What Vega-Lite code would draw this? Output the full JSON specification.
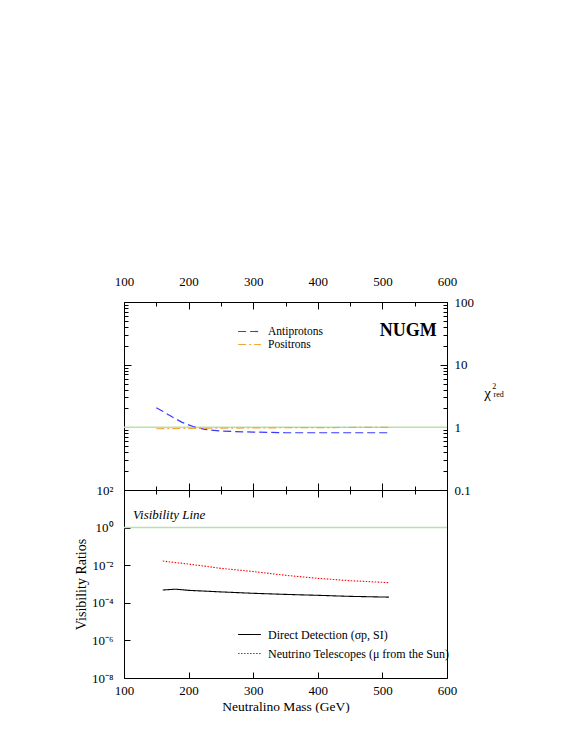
{
  "$schema": "https://vega.github.io/schema/vega-lite/v6.json",
  "background": "white",
  "padding": {"left": 73, "top": 271, "right": 0, "bottom": 0},
  "bounds": "flush",
  "spacing": 0,
  "config": {
    "font": "Liberation Serif",
    "view": {"stroke": "black", "strokeWidth": 1},
    "axis": {"grid": false, "domain": false, "labelFlush": false, "labelOverlap": false, "labelFont": "Liberation Serif", "titleFont": "Liberation Serif", "labelFontSize": 13, "titleFontSize": 13, "labelColor": "black", "titleColor": "black", "tickColor": "black", "titleFontWeight": "normal"},
    "legend": {"labelFont": "Liberation Serif", "labelColor": "black", "labelLimit": 400}
  },
  "resolve": {"scale": {"color": "independent", "strokeDash": "independent"}, "legend": {"color": "independent", "strokeDash": "independent"}},
  "vconcat": [
    {
      "width": 323,
      "height": 188,
      "layer": [
        {
          "data": {"values": [{}]},
          "mark": {"type": "rule", "color": "#b8e2ad", "strokeWidth": 1.5},
          "encoding": {
            "y": {"datum": 1, "type": "quantitative", "scale": {"type": "log", "domain": [0.1, 100]},
              "axis": {"orient": "left", "values": [0.1,0.2,0.3,0.4,0.5,0.6,0.7,0.8,0.9,1,2,3,4,5,6,7,8,9,10,20,30,40,50,60,70,80,90,100], "labels": false, "title": null,
                "tickSize": {"condition": {"test": "abs(log(datum.value)/LN10 - round(log(datum.value)/LN10)) < 0.001", "value": -7}, "value": -4}}}
          }
        },
        {
          "data": {"values": [
            {"mass": 150, "chi2": 2.06, "series": "Antiprotons"},
            {"mass": 160, "chi2": 1.8, "series": "Antiprotons"},
            {"mass": 175, "chi2": 1.46, "series": "Antiprotons"},
            {"mass": 190, "chi2": 1.2, "series": "Antiprotons"},
            {"mass": 207, "chi2": 1.03, "series": "Antiprotons"},
            {"mass": 225, "chi2": 0.93, "series": "Antiprotons"},
            {"mass": 250, "chi2": 0.87, "series": "Antiprotons"},
            {"mass": 300, "chi2": 0.84, "series": "Antiprotons"},
            {"mass": 350, "chi2": 0.82, "series": "Antiprotons"},
            {"mass": 400, "chi2": 0.82, "series": "Antiprotons"},
            {"mass": 450, "chi2": 0.82, "series": "Antiprotons"},
            {"mass": 510, "chi2": 0.82, "series": "Antiprotons"},
            {"mass": 150, "chi2": 0.95, "series": "Positrons"},
            {"mass": 200, "chi2": 0.96, "series": "Positrons"},
            {"mass": 300, "chi2": 0.98, "series": "Positrons"},
            {"mass": 400, "chi2": 0.99, "series": "Positrons"},
            {"mass": 510, "chi2": 1.0, "series": "Positrons"}
          ]},
          "mark": {"type": "line", "strokeWidth": 1.2},
          "encoding": {
            "x": {"field": "mass", "type": "quantitative", "scale": {"domain": [100, 600], "nice": false},
              "axis": {"orient": "top", "values": [100,150,200,250,300,350,400,450,500,550,600], "labelExpr": "datum.value % 100 === 0 ? datum.label : ''", "title": null, "labelPadding": 21,
                "tickSize": {"condition": {"test": "datum.value % 100 === 0", "value": -7}, "value": -4}}},
            "y": {"field": "chi2", "type": "quantitative", "scale": {"type": "log", "domain": [0.1, 100]},
              "axis": {"orient": "right", "values": [0.1,0.2,0.3,0.4,0.5,0.6,0.7,0.8,0.9,1,2,3,4,5,6,7,8,9,10,20,30,40,50,60,70,80,90,100], "title": null, "labelPadding": 14,
                "labelExpr": "indexof([0.1,1,10,100], datum.value) >= 0 ? datum.label : ''",
                "tickSize": {"condition": {"test": "abs(log(datum.value)/LN10 - round(log(datum.value)/LN10)) < 0.001", "value": -7}, "value": -4}}},
            "color": {"field": "series", "type": "nominal", "scale": {"domain": ["Antiprotons", "Positrons"], "range": ["#3a3aff", "#f5a53a"]},
              "legend": {"orient": "none", "legendX": 119, "legendY": 23, "title": null, "symbolType": "M-2,0L2,0", "symbolSize": 130, "symbolStrokeWidth": 1.2, "labelFontSize": 11.5, "rowPadding": 1, "labelOffset": 12}},
            "strokeDash": {"field": "series", "type": "nominal", "scale": {"domain": ["Antiprotons", "Positrons"], "range": [[8, 4], [8, 3, 2, 3]]},
              "legend": {"orient": "none", "legendX": 119, "legendY": 23, "title": null, "symbolType": "M-2,0L2,0", "symbolSize": 130, "symbolStrokeWidth": 1.2, "labelFontSize": 11.5, "rowPadding": 1, "labelOffset": 12}}
          }
        },
        {
          "data": {"values": [{}]},
          "mark": {"type": "text", "text": "NUGM", "fontSize": 18, "fontWeight": "bold", "align": "right", "baseline": "middle", "font": "Liberation Serif"},
          "encoding": {
            "x": {"datum": 584, "type": "quantitative",
              "axis": {"orient": "bottom", "values": [100,150,200,250,300,350,400,450,500,550,600], "labels": false, "title": null,
                "tickSize": {"condition": {"test": "datum.value % 100 === 0", "value": -7}, "value": -4}}},
            "y": {"datum": 34, "type": "quantitative", "axis": null}
          }
        },
        {
          "data": {"values": [{}]},
          "mark": {"type": "text", "text": "χ", "fontSize": 15, "align": "center", "baseline": "middle", "font": "Liberation Serif"},
          "encoding": {"x": {"datum": 663, "type": "quantitative", "axis": null}, "y": {"datum": 3.5, "type": "quantitative", "axis": null}}
        },
        {
          "data": {"values": [{}]},
          "mark": {"type": "text", "text": "2", "fontSize": 8, "align": "left", "baseline": "middle", "font": "Liberation Serif"},
          "encoding": {"x": {"datum": 670, "type": "quantitative", "axis": null}, "y": {"datum": 4.4, "type": "quantitative", "axis": null}}
        },
        {
          "data": {"values": [{}]},
          "mark": {"type": "text", "text": "red", "fontSize": 8, "align": "left", "baseline": "middle", "font": "Liberation Serif"},
          "encoding": {"x": {"datum": 672, "type": "quantitative", "axis": null}, "y": {"datum": 3.3, "type": "quantitative", "axis": null}}
        }
      ],
      "resolve": {"axis": {"x": "independent", "y": "independent"}}
    },
    {
      "width": 323,
      "height": 188,
      "layer": [
        {
          "data": {"values": [{}]},
          "mark": {"type": "rule", "color": "#b8e2ad", "strokeWidth": 1.5},
          "encoding": {
            "y": {"datum": 1, "type": "quantitative", "scale": {"type": "log", "domain": [1e-8, 100]},
              "axis": {"orient": "left", "values": [1e-8, 1e-6, 1e-4, 1e-2, 1, 100], "title": "Visibility Ratios", "titleFontSize": 14, "titlePadding": 3, "labelPadding": 17, "tickSize": -6,
                "labelExpr": "'10' + ({'-8':'⁻⁸','-6':'⁻⁶','-4':'⁻⁴','-2':'⁻²','0':'⁰','2':'²'})['' + round(log(datum.value)/LN10)]"}}
          }
        },
        {
          "data": {"values": [
            {"mass": 160, "ratio": 0.00048, "series": "Direct Detection (σp, SI)"},
            {"mass": 180, "ratio": 0.00053, "series": "Direct Detection (σp, SI)"},
            {"mass": 200, "ratio": 0.00046, "series": "Direct Detection (σp, SI)"},
            {"mass": 250, "ratio": 0.00038, "series": "Direct Detection (σp, SI)"},
            {"mass": 300, "ratio": 0.00032, "series": "Direct Detection (σp, SI)"},
            {"mass": 350, "ratio": 0.00028, "series": "Direct Detection (σp, SI)"},
            {"mass": 400, "ratio": 0.00025, "series": "Direct Detection (σp, SI)"},
            {"mass": 450, "ratio": 0.00022, "series": "Direct Detection (σp, SI)"},
            {"mass": 510, "ratio": 0.0002, "series": "Direct Detection (σp, SI)"},
            {"mass": 160, "ratio": 0.0166, "series": "Neutrino Telescopes (μ from the Sun)"},
            {"mass": 200, "ratio": 0.0115, "series": "Neutrino Telescopes (μ from the Sun)"},
            {"mass": 250, "ratio": 0.0068, "series": "Neutrino Telescopes (μ from the Sun)"},
            {"mass": 300, "ratio": 0.0046, "series": "Neutrino Telescopes (μ from the Sun)"},
            {"mass": 350, "ratio": 0.0029, "series": "Neutrino Telescopes (μ from the Sun)"},
            {"mass": 400, "ratio": 0.002, "series": "Neutrino Telescopes (μ from the Sun)"},
            {"mass": 450, "ratio": 0.0015, "series": "Neutrino Telescopes (μ from the Sun)"},
            {"mass": 510, "ratio": 0.00118, "series": "Neutrino Telescopes (μ from the Sun)"}
          ]},
          "mark": {"type": "line", "strokeWidth": 1.1},
          "encoding": {
            "x": {"field": "mass", "type": "quantitative", "scale": {"domain": [100, 600], "nice": false},
              "axis": {"orient": "bottom", "values": [100,200,300,400,500,600], "title": "Neutralino Mass (GeV)", "titleFontSize": 13.5, "titlePadding": 2, "labelPadding": 12, "tickSize": -6}},
            "y": {"field": "ratio", "type": "quantitative", "scale": {"type": "log", "domain": [1e-8, 100]}, "axis": null},
            "color": {"field": "series", "type": "nominal", "scale": {"domain": ["Direct Detection (σp, SI)", "Neutrino Telescopes (μ from the Sun)"], "range": ["#000000", "#ff0000"]},
              "legend": {"orient": "none", "legendX": 119, "legendY": 138, "title": null, "symbolType": "M-2,0L2,0", "symbolSize": 130, "symbolStrokeWidth": 1.2, "labelFontSize": 12, "rowPadding": 6, "labelOffset": 12}},
            "strokeDash": {"field": "series", "type": "nominal", "scale": {"domain": ["Direct Detection (σp, SI)", "Neutrino Telescopes (μ from the Sun)"], "range": [[1, 0], [1.5, 1.5]]},
              "legend": {"orient": "none", "legendX": 119, "legendY": 138, "title": null, "symbolType": "M-2,0L2,0", "symbolSize": 130, "symbolStrokeWidth": 1.2, "labelFontSize": 12, "rowPadding": 6, "labelOffset": 12}}
          }
        },
        {
          "data": {"values": [{}]},
          "mark": {"type": "text", "text": "Visibility Line", "fontSize": 13, "fontStyle": "italic", "align": "left", "baseline": "alphabetic", "font": "Liberation Serif"},
          "encoding": {
            "x": {"datum": 114, "type": "quantitative",
              "axis": {"orient": "top", "values": [100,150,200,250,300,350,400,450,500,550,600], "labels": false, "title": null,
                "tickSize": {"condition": {"test": "datum.value % 100 === 0", "value": -7}, "value": -4}}},
            "y": {"datum": 2.9, "type": "quantitative", "axis": null}
          }
        }
      ],
      "resolve": {"axis": {"x": "independent", "y": "independent"}}
    }
  ]
}
